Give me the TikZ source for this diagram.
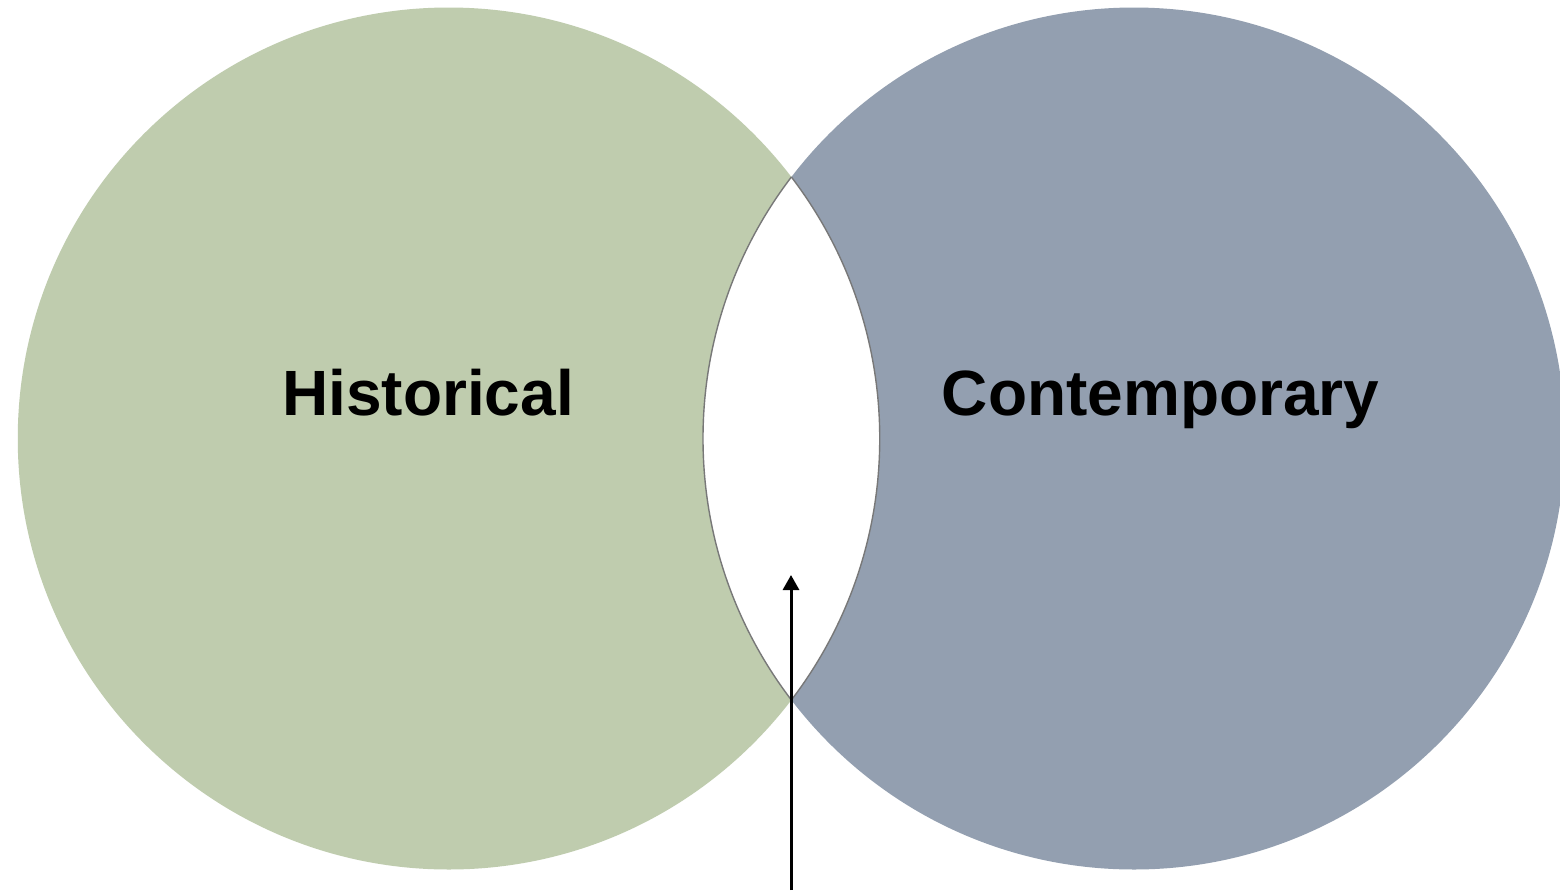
\documentclass[tikz,border=0pt]{standalone}
\usepackage{fontspec}
\setmainfont{Liberation Sans}
\usetikzlibrary{arrows.meta}
\definecolor{histgreen}{RGB}{191,204,174}
\definecolor{contblue}{RGB}{147,159,176}
\definecolor{lensline}{RGB}{120,120,120}
\begin{document}
\begin{tikzpicture}[x=0.5pt,y=-0.5pt,
  label/.style={font=\fontsize{32}{38}\selectfont\bfseries, text=black, inner sep=0pt},
  pointer/.style={line width=1.5pt, draw=black, -{Triangle[width=8pt,length=7.5pt]}}]
\useasboundingbox (0,0) rectangle (1560,890);
\fill[white] (0,0) rectangle (1560,890);
\coordinate (cl) at (448.75,438.5);
\coordinate (cr) at (1134,438.5);
\fill[histgreen] (cl) circle[radius=215.5pt];
\fill[contblue] (cr) circle[radius=215.5pt];
\begin{scope}
  \clip (cl) circle[radius=215.5pt];
  \fill[white] (cr) circle[radius=215.5pt];
  \draw[lensline, line width=0.7pt] (cr) circle[radius=215.5pt];
\end{scope}
\begin{scope}
  \clip (cr) circle[radius=215.5pt];
  \draw[lensline, line width=0.7pt] (cl) circle[radius=215.5pt];
\end{scope}
\node[label, anchor=base] (hist) at (428,415) {Historical};
\node[label, anchor=base] (cont) at (1160.5,415) {Contemporary};
\coordinate (arrowfoot) at (791,890);
\coordinate (arrowtip) at (791,575);
\draw[pointer] (arrowfoot) -- (arrowtip);
\end{tikzpicture}
\end{document}
